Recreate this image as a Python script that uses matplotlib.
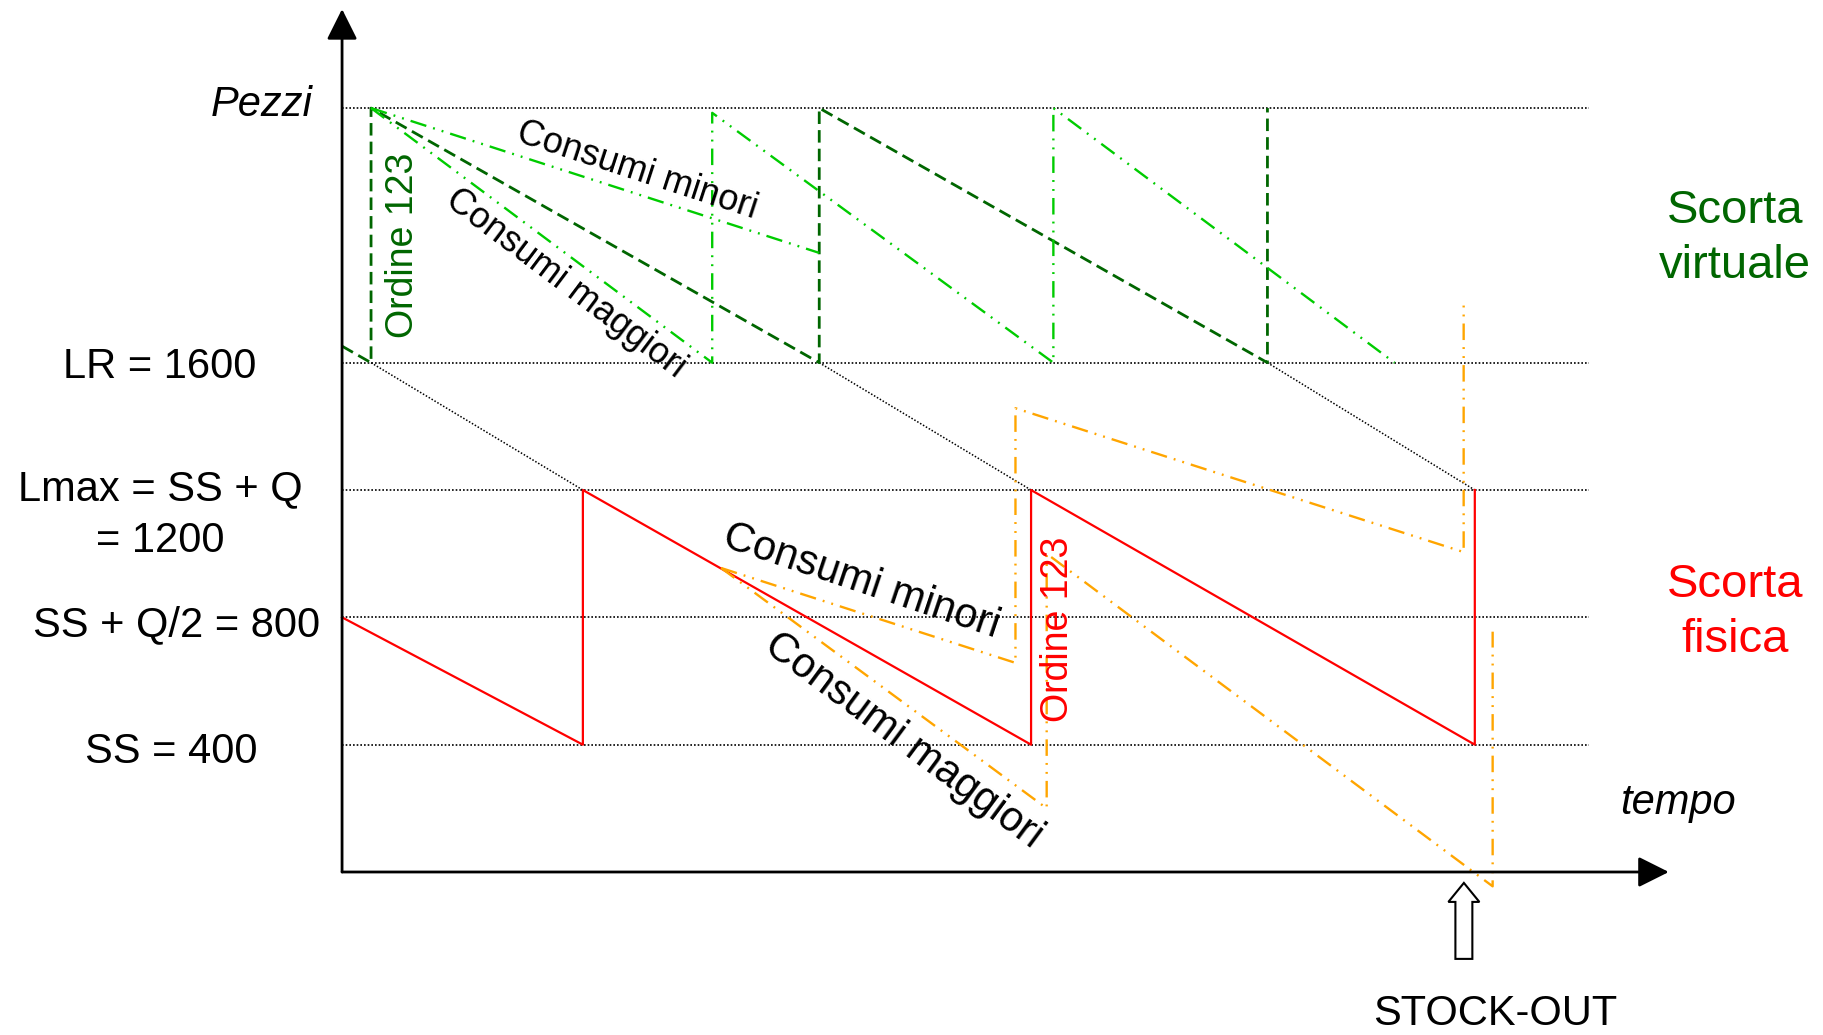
import matplotlib
matplotlib.use('Agg')
import matplotlib.pyplot as plt
from matplotlib.patches import FancyArrow

plt.rcParams['font.family'] = ['Liberation Sans', 'DejaVu Sans']

# livelli (pezzi)
SS = 400
Q = 800
LR = 1600
LMAX = SS + Q
TOP = 2400
grid_levels = [TOP, LR, LMAX, SS + Q // 2, SS]
grid_end = 55.9

# scorta fisica
red_t = [0, 10.8, 10.8, 30.9, 30.9, 50.8, 50.8]
red_v = [800, 400, 1200, 400, 1200, 400, 1200]

# scorta virtuale, consumo nominale
virt_t = [0, 1.3, 1.3, 21.4, 21.4, 41.5, 41.5]
virt_v = [1652, 1600, 2400, 1600, 2400, 1600, 2400]

# collegamento LR -> Lmax
link_t0 = [1.3, 21.4, 41.5]
link_t1 = [10.8, 30.9, 50.8]

# virtuale: consumi minori / maggiori
vmin_t = [1.3, 21.4]
vmin_v = [2400, 1945]
vmag_t = [1.3, 16.6, 16.6, 31.9, 31.9, 47.2]
vmag_v = [2400, 1600, 2385, 1600, 2400, 1600]

# fisica: consumi minori / maggiori
fmin_t = [17.0, 30.2, 30.2, 50.3, 50.3]
fmin_v = [955, 657, 1457, 1005, 1800]
fmag_t = [17.0, 31.6, 31.6, 51.6, 51.6]
fmag_v = [955, 200, 1000, -45, 755]

stockout_t = 50.31

DKGREEN = '#006600'
LTGREEN = '#00CC00'
ORANGE = '#FFA500'
dotted = (0, (1, 1.2))
dashdot = (0, (7, 3, 0.8, 3, 0.8, 3))

fig = plt.figure(figsize=(18.24, 10.35), dpi=100)
ax = fig.add_axes([0, 0, 1, 1])
ax.set_xlim(-15.34, 66.46)
ax.set_ylim(-512.1, 2739.5)
ax.axis('off')

# assi con freccia
head = dict(arrowstyle='-|>,head_length=0.4,head_width=0.2', mutation_scale=47,
            lw=2, color='black', shrinkA=0, shrinkB=0)
ax.annotate('', xy=(0, 2711), xytext=(0, 0), arrowprops=head)
ax.annotate('', xy=(59.5, 0), xytext=(0, 0), arrowprops=head)

for lv in grid_levels:
    ax.plot([0, grid_end], [lv, lv], color='black', lw=1.2, ls=dotted)

for t0, t1 in zip(link_t0, link_t1):
    ax.plot([t0, t1], [LR, LMAX], color='black', lw=1.1, ls=dotted)

ax.plot(red_t, red_v, color='red', lw=1.6)
ax.plot(virt_t, virt_v, color=DKGREEN, lw=2, ls=(0, (4.5, 2.2)))
ax.plot(vmin_t, vmin_v, color=LTGREEN, lw=1.7, ls=dashdot)
ax.plot(vmag_t, vmag_v, color=LTGREEN, lw=1.7, ls=dashdot)
ax.plot(fmin_t, fmin_v, color=ORANGE, lw=1.7, ls=dashdot)
ax.plot(fmag_t, fmag_v, color=ORANGE, lw=1.7, ls=dashdot)

# freccia stock-out
ax.add_patch(FancyArrow(stockout_t, -273, 0, 238.7, width=0.76, head_width=1.39,
                        head_length=59.7, length_includes_head=True,
                        fc='white', ec='black', lw=1.5))

fs = 30
ax.text(-1.3, 2375, 'Pezzi', style='italic', fontsize=fs, ha='right', va='baseline')
ax.text(-8.16, 1552, 'LR = 1600', fontsize=fs, ha='center', va='baseline')
ax.text(-8.16, 1169, 'Lmax = SS + Q', fontsize=fs, ha='center', va='baseline')
ax.text(-8.16, 1005, '= 1200', fontsize=fs, ha='center', va='baseline')
ax.text(-7.4, 741, 'SS + Q/2 = 800', fontsize=fs, ha='center', va='baseline')
ax.text(-7.65, 342, 'SS = 400', fontsize=fs, ha='center', va='baseline')
ax.text(57.3, 182, 'tempo', style='italic', fontsize=fs, ha='left', va='baseline')
ax.text(51.7, -482, 'STOCK-OUT', fontsize=fs, ha='center', va='baseline')

ax.text(62.47, 2039, 'Scorta', fontsize=34, color=DKGREEN, ha='center', va='baseline')
ax.text(62.47, 1866, 'virtuale', fontsize=34, color=DKGREEN, ha='center', va='baseline')
ax.text(62.47, 864, 'Scorta', fontsize=34, color='red', ha='center', va='baseline')
ax.text(62.47, 691, 'fisica', fontsize=34, color='red', ha='center', va='baseline')

ax.text(2.74, 1970, 'Ordine 123', fontsize=27, color=DKGREEN, rotation=90,
        ha='center', va='center')
ax.text(32.1, 763, 'Ordine 123', fontsize=27, color='red', rotation=90,
        ha='center', va='center')

ax.text(13.23, 2202, 'Consumi minori', fontsize=26, rotation=-18, ha='center', va='center')
ax.text(10.04, 1850, 'Consumi maggiori', fontsize=26, rotation=-37, ha='center', va='center')
ax.text(23.3, 914, 'Consumi minori', fontsize=30, rotation=-18.5, ha='center', va='center')
ax.text(25.16, 412, 'Consumi maggiori', fontsize=30, rotation=-36.5, ha='center', va='center')

fig.savefig('out.png', dpi=100)
